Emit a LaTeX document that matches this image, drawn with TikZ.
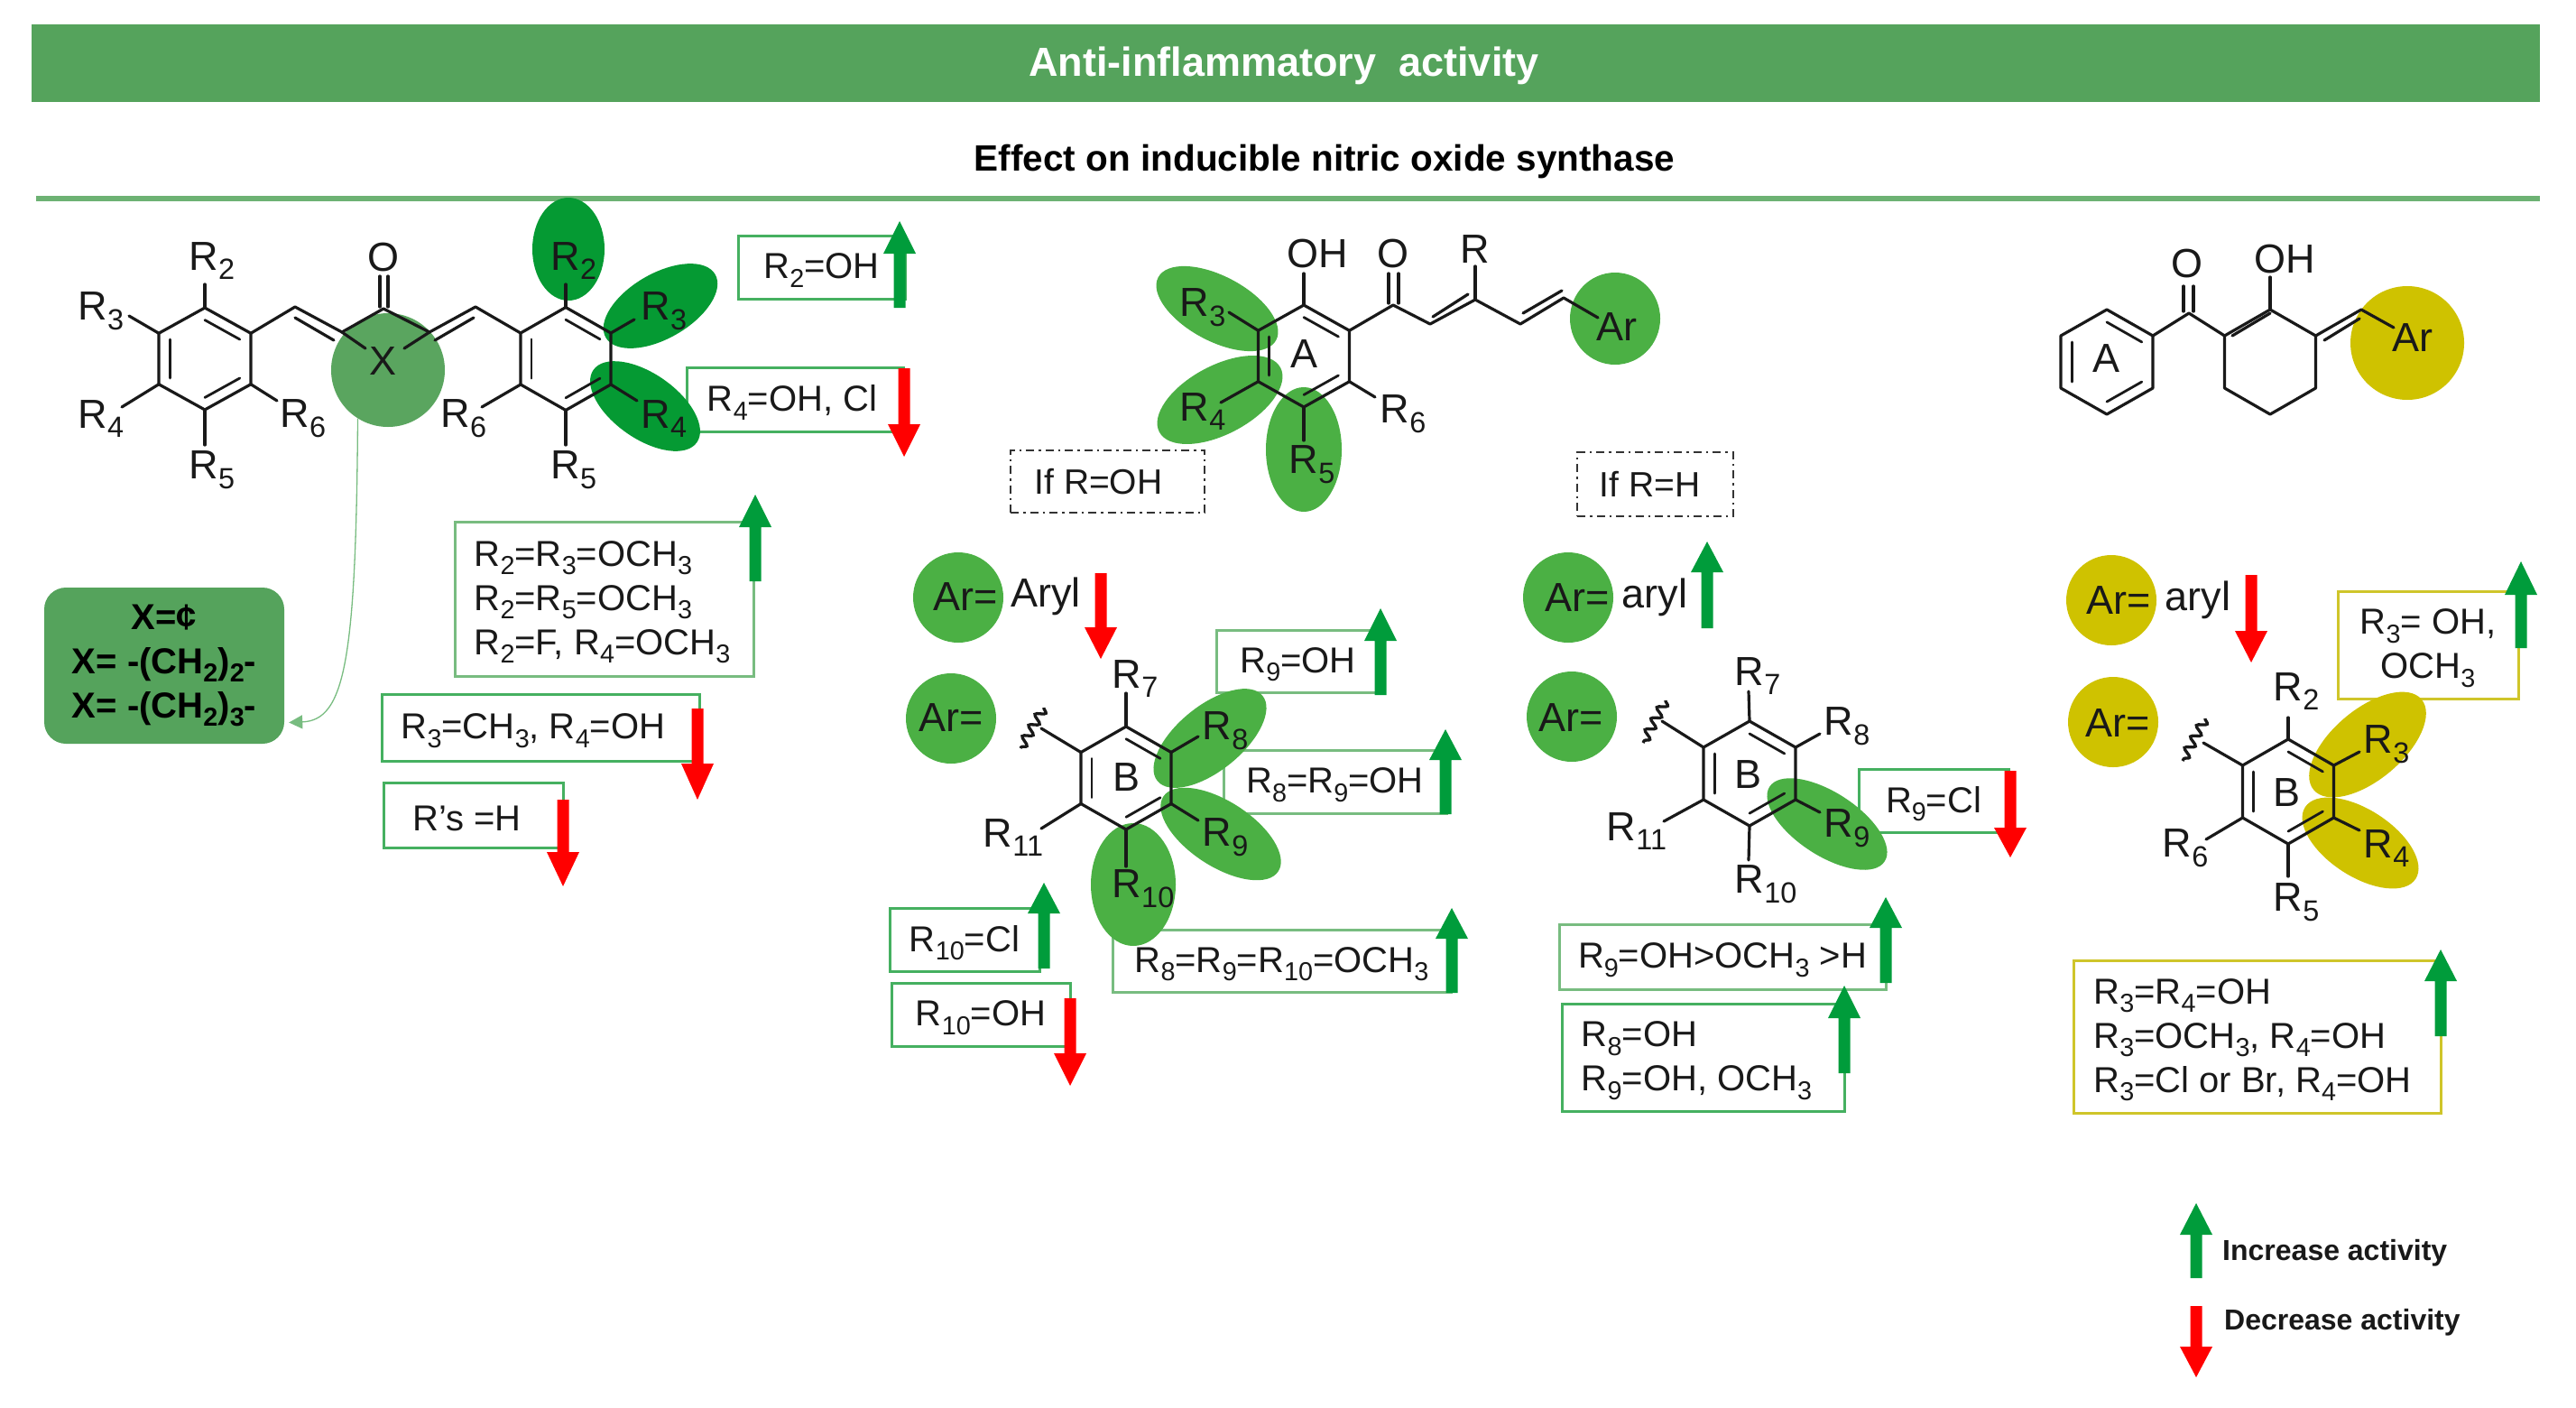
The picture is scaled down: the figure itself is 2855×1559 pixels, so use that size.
\documentclass[tikz,border=0pt]{standalone}
\usepackage{fontspec}
\setmainfont{Liberation Sans}
\usetikzlibrary{calc,shapes.geometric,arrows.meta,decorations.pathmorphing}
\definecolor{banner}{HTML}{55A35C}
\definecolor{rulec}{HTML}{6DB273}
\definecolor{dkg}{HTML}{059A33}
\definecolor{midg}{HTML}{4BB044}
\definecolor{palg}{HTML}{5AA55F}
\definecolor{yel}{HTML}{CFC200}
\definecolor{gbox}{HTML}{45B060}
\definecolor{lbox}{HTML}{78BC80}
\definecolor{ybox}{HTML}{CFC52A}
\definecolor{garr}{HTML}{009C3B}
\tikzset{
 bond/.style={line width=3.2pt,line cap=round,line join=round,draw=black!90},
 lbl/.style={inner sep=0pt,font=\fontsize{45}{50}\selectfont,text=black!90},
 ttl/.style={inner sep=0pt,font=\fontsize{#1}{#1}\selectfont\bfseries},
 blob/.style={ellipse,fill=#1,draw=none,inner sep=0pt},
 boxs/.style={draw=#1,line width=3pt,fill=none,inner sep=0pt},
 boxt/.style={inner sep=0pt,align=left,font=\fontsize{40}{49}\selectfont,text=black!90},
 dbox/.style={draw=black!80,line width=2.2pt,dash pattern=on 9pt off 5pt on 2.5pt off 5pt,inner sep=0pt,font=\fontsize{39}{46}\selectfont,text=black!90},
 conn/.style={draw=#1,line width=1.3pt,-{Triangle[length=15pt,width=15pt,fill=#1]}},
 wavy/.style={line width=3.3pt,draw=black!90,decorate,decoration={snake,segment length=14pt,amplitude=5pt}},
}
\newcommand{\su}[1]{\raisebox{-.24em}{\scalebox{.72}{#1}}}
% name cx cy w r
\newcommand{\hexr}[5]{%
 \coordinate (#1) at (#2,#3);
 \coordinate (#1-1) at (#2,{#3-#5});
 \coordinate (#1-2) at ({#2+#4},{#3-#5/2});
 \coordinate (#1-3) at ({#2+#4},{#3+#5/2});
 \coordinate (#1-4) at (#2,{#3+#5});
 \coordinate (#1-5) at ({#2-#4},{#3+#5/2});
 \coordinate (#1-6) at ({#2-#4},{#3-#5/2});
 \draw[bond] (#1-1)--(#1-2)--(#1-3)--(#1-4)--(#1-5)--(#1-6)--cycle;
}
\newcommand{\hexin}[3]{\draw[bond,line width=2.8pt] ($(#1)!.76!(#1-#2)$)--($(#1)!.76!(#1-#3)$);}
% from-vertex, bond end x y, label name, lx ly, text
\newcommand{\sbd}[7]{%
 \coordinate (#4-b) at (#2,#3);
 \draw[bond] (#1)--(#4-b);
 \node[lbl] (#4) at (#5,#6) {#7};
}
% name x1 y1 x2 y2 colour opts text
\newcommand{\bx}[8]{%
 \node[boxs=#6,minimum width={(#4-#2)*1pt},minimum height={(#5-#3)*1pt}] (#1) at ({(#2+#4)/2},{(#3+#5)/2}) {};
 \node[boxt,#7] (#1t) at ({(#2+#4)/2},{(#3+#5)/2+3.5}) {#8};}
% x top headbase bottom
\newcommand{\uparr}[4]{\fill[garr] (#1,#2)--({#1+18},#3)--({#1+6.5},#3)--({#1+6.5},#4)--({#1-6.5},#4)--({#1-6.5},#3)--({#1-18},#3)--cycle;}
\newcommand{\dnarr}[4]{\fill[red] ({#1-6.5},#2)--({#1+6.5},#2)--({#1+6.5},#3)--({#1+18},#3)--(#1,#4)--({#1-18},#3)--({#1-6.5},#3)--cycle;}
\begin{document}
\begin{tikzpicture}[x=1pt,y=-1pt]
\useasboundingbox (0,0) rectangle (2855,1559);
% header
\node[fill=banner,minimum width=2780pt,minimum height=86pt,inner sep=0pt] (banner) at (1425,70) {};
\node[text=white,ttl=45] (title) at (1423,73) {Anti-inflammatory\ \ activity};
\node[ttl=40.5,text=black] (subtitle) at (1468,179) {Effect on inducible nitric oxide synthase};
\coordinate (ruleL) at (40,220);\coordinate (ruleR) at (2815,220);
\draw[rulec,line width=6pt] (ruleL)--(ruleR);

% boxes
\bx{b1}{818}{261}{1003}{331}{gbox}{}{R\su{2}=OH}
\bx{b2}{761}{407}{1001}{478}{gbox}{xshift=-3pt}{R\su{4}=OH, Cl}
\bx{b3}{504}{578}{835}{749}{lbox}{xshift=-2pt}{R\su{2}=R\su{3}=OCH\su{3}\\R\su{2}=R\su{5}=OCH\su{3}\\R\su{2}=F, R\su{4}=OCH\su{3}}
\bx{b4}{423}{769}{775}{843}{gbox}{xshift=-8pt}{R\su{3}=CH\su{3}, R\su{4}=OH}
\bx{b5}{425}{867}{624}{939}{gbox}{xshift=-7pt}{R’s =H}
\bx{b6}{1348}{698}{1529}{767}{lbox}{}{R\su{9}=OH}
\bx{b7}{1356}{831}{1603}{901}{lbox}{}{R\su{8}=R\su{9}=OH}
\bx{b8}{1233}{1030}{1608}{1099}{lbox}{}{R\su{8}=R\su{9}=R\su{10}=OCH\su{3}}
\bx{b9}{986}{1006}{1152}{1076}{gbox}{}{R\su{10}=Cl}
\bx{b10}{988}{1089}{1186}{1159}{gbox}{}{R\su{10}=OH}
\bx{b11}{2060}{852}{2226}{922}{gbox}{}{R\su{9}=Cl}
\bx{b12}{1728}{1024}{2090}{1096}{lbox}{}{R\su{9}=OH>OCH\su{3} >H}
\bx{b13}{1731}{1112}{2044}{1231}{gbox}{xshift=-7pt}{R\su{8}=OH\\R\su{9}=OH, OCH\su{3}}
\bx{b14}{2591}{655}{2791}{774}{ybox}{align=center}{R\su{3}= OH,\\OCH\su{3}}
\bx{b15}{2298}{1064}{2705}{1233}{ybox}{xshift=-5pt}{R\su{3}=R\su{4}=OH\\R\su{3}=OCH\su{3}, R\su{4}=OH\\R\su{3}=Cl or Br, R\su{4}=OH}
\node[dbox,minimum width=215pt,minimum height=69pt] (d1) at (1227.5,533.5) {\hspace*{-20pt}If R=OH};
\node[dbox,minimum width=173pt,minimum height=71pt] (d2) at (1834.5,536.5) {\hspace*{-12pt}If R=H};

% ellipses
\node[blob=dkg,minimum width=80pt,minimum height=114pt] (e1) at (630,276) {};
\node[blob=dkg,minimum width=140pt,minimum height=72pt,rotate=30] (e2) at (732,339) {};
\node[blob=dkg,minimum width=140pt,minimum height=72pt,rotate=-35] (e3) at (715,450) {};
\node[blob=palg,minimum width=126pt,minimum height=126pt] (xe) at (430,410) {};
\node[blob=midg,minimum width=148pt,minimum height=72pt,rotate=-28] (e4) at (1349,342) {};
\node[blob=midg,minimum width=152pt,minimum height=76pt,rotate=28] (e5) at (1352,443) {};
\node[blob=midg,minimum width=84pt,minimum height=138pt] (e6) at (1445,498) {};
\node[blob=midg,minimum width=100pt,minimum height=102pt] (e7) at (1790,353) {};
\node[blob=midg,minimum width=100pt,minimum height=100pt] (e8) at (1062,662) {};
\node[blob=midg,minimum width=100pt,minimum height=100pt] (e9) at (1054,796) {};
\node[blob=midg,minimum width=150pt,minimum height=72pt,rotate=39] (e10) at (1341,818) {};
\node[blob=midg,minimum width=152pt,minimum height=72pt,rotate=-33] (e11) at (1353,924) {};
\node[blob=midg,minimum width=94pt,minimum height=136pt] (e12) at (1256,980) {};
\node[blob=midg,minimum width=100pt,minimum height=100pt] (e13) at (1738,662) {};
\node[blob=midg,minimum width=100pt,minimum height=100pt] (e14) at (1742,794) {};
\node[blob=midg,minimum width=152pt,minimum height=70pt,rotate=-33] (e15) at (2025,913) {};
\node[blob=yel,minimum width=126pt,minimum height=126pt] (e16) at (2668,380) {};
\node[blob=yel,minimum width=100pt,minimum height=100pt] (e17) at (2340,665) {};
\node[blob=yel,minimum width=100pt,minimum height=100pt] (e18) at (2342,800) {};
\node[blob=yel,minimum width=156pt,minimum height=78pt,rotate=40] (e19) at (2624,825) {};
\node[blob=yel,minimum width=146pt,minimum height=74pt,rotate=-33] (e20) at (2616,934) {};

% --- structure 1
\hexr{la}{227}{397.5}{51}{56.5}
\hexin{la}{1}{2}\hexin{la}{3}{4}\hexin{la}{5}{6}
\hexr{lb}{627}{397.5}{50}{57}
\hexin{lb}{1}{2}\hexin{lb}{3}{4}\hexin{lb}{5}{6}
\coordinate (c1) at (327,340);\coordinate (c2) at (379,368);\coordinate (c3) at (425,342);\coordinate (c4) at (476,368);\coordinate (c5) at (527,340);
\draw[bond] (la-2)--(c1)--(c2)--(c3)--(c4)--(c5)--(lb-6);
\draw[bond] (327,352)--(370,377);\draw[bond] (482,377)--(525,352);
\node[lbl] (o1) at (425,285) {O};
\draw[bond] (421,306)--(421,340);\draw[bond] (430,306)--(430,340);
\node[lbl] (x1) at (425,400) {X};
\coordinate (xl) at (405,386);\coordinate (xr) at (448,386);
\draw[bond] (c2)--(xl);\draw[bond] (c4)--(xr);
\sbd{la-1}{227}{315}{s1}{235}{289}{R\su{2}}
\sbd{la-6}{143}{350}{s2}{112}{345}{R\su{3}}
\sbd{la-5}{135}{451}{s3}{112}{464}{R\su{4}}
\sbd{la-4}{227}{493}{s4}{235}{521}{R\su{5}}
\sbd{la-3}{307}{444}{s5}{336}{464}{R\su{6}}
\sbd{lb-1}{627}{315}{s6}{636}{289}{R\su{2}}
\sbd{lb-2}{703}{354}{s7}{736}{345}{R\su{3}}
\sbd{lb-3}{706}{444}{s8}{736}{464}{R\su{4}}
\sbd{lb-4}{627}{493}{s9}{636}{521}{R\su{5}}
\sbd{lb-5}{534}{451}{s10}{514}{464}{R\su{6}}
% X box
\node[fill=banner,rounded corners=24pt,minimum width=266pt,minimum height=173pt,inner sep=0pt,align=center,font=\fontsize{40}{49}\selectfont\bfseries] (xbox) at (182,737.5) {X=¢\\X= -(CH\su{2})\su{2}-\\X= -(CH\su{2})\su{3}-};
\draw[conn=lbox] (xe.-122) .. controls ($(xe.-122)+(-2,270)$) and (382,798) .. ($(xbox.east)+(5,63)$);

% --- structure 2
\hexr{ma}{1445}{394.5}{50.5}{56.5}
\hexin{ma}{1}{2}\hexin{ma}{3}{4}\hexin{ma}{5}{6}
\node[lbl] (a2) at (1445,392) {A};
\sbd{ma-1}{1445}{303}{m1}{1460}{281}{OH}
\coordinate (d1a) at (1544,338);\coordinate (d2a) at (1585,359);\coordinate (d3a) at (1635,332);\coordinate (d4a) at (1685,359);\coordinate (d5a) at (1733,330);
\coordinate (d6a) at (1771,352);
\draw[bond] (ma-2)--(d1a)--(d2a)--(d3a)--(d4a)--(d5a)--(d6a);
\draw[bond] (1588,351)--(1627,326);\draw[bond] (1688,347)--(1731,322);
\node[lbl] (o2) at (1544,281) {O};
\draw[bond] (1539,303)--(1539,336);\draw[bond] (1550,303)--(1550,336);
\sbd{d3a}{1635}{295}{m2}{1635}{276}{R}
\node[lbl] (ar1) at (1792,362) {Ar};
\sbd{ma-6}{1362}{346}{m3}{1333}{341}{R\su{3}}
\sbd{ma-5}{1353}{446}{m4}{1333}{456}{R\su{4}}
\sbd{ma-4}{1445}{488}{m5}{1454}{515}{R\su{5}}
\sbd{ma-3}{1524}{440}{m6}{1555}{459}{R\su{6}}
% Ar=Aryl
\node[lbl] (t1) at (1070,661) {Ar=};
\node[lbl] (t2) at (1159,661) {Aryl};
\node[lbl] (t3) at (1054,795) {Ar=};
% ring B mid
\hexr{mb}{1248}{862}{50}{57}
\hexin{mb}{1}{2}\hexin{mb}{3}{4}\hexin{mb}{5}{6}
\node[lbl] (bb1) at (1248,861) {B};
\coordinate (w1) at (1154,807);\draw[bond] (mb-6)--(w1);
\coordinate (w1a) at (1157,784);\coordinate (w1b) at (1131,829);\draw[wavy] (w1a)--(w1b);
\sbd{mb-1}{1248}{768}{n1}{1258}{752}{R\su{7}}
\sbd{mb-2}{1328}{816}{n2}{1358}{810}{R\su{8}}
\sbd{mb-3}{1328}{909}{n3}{1358}{928}{R\su{9}}
\sbd{mb-4}{1248}{960}{n4}{1267}{985}{R\su{10}}
\sbd{mb-5}{1154}{918}{n5}{1123}{928}{R\su{11}}
% ring B right of middle
\node[lbl] (t4) at (1748,662) {Ar=};
\node[lbl] (t5) at (1834,662) {aryl};
\node[lbl] (t6) at (1741,795) {Ar=};
\hexr{nb}{1939}{857}{51}{58}
\hexin{nb}{1}{2}\hexin{nb}{3}{4}\hexin{nb}{5}{6}
\node[lbl] (bb2) at (1937,858) {B};
\coordinate (w2) at (1842,799);\draw[bond] (nb-6)--(w2);
\coordinate (w2a) at (1846,776);\coordinate (w2b) at (1821,823);\draw[wavy] (w2a)--(w2b);
\sbd{nb-1}{1938}{766}{p1}{1948}{749}{R\su{7}}
\sbd{nb-2}{2017}{813}{p2}{2047}{805}{R\su{8}}
\sbd{nb-3}{2017}{900}{p3}{2047}{918}{R\su{9}}
\sbd{nb-4}{1938}{953}{p4}{1957}{980}{R\su{10}}
\sbd{nb-5}{1844}{910}{p5}{1814}{921}{R\su{11}}

% --- structure 3
\hexr{ra}{2335}{401}{51}{58}
\hexin{ra}{1}{2}\hexin{ra}{3}{4}\hexin{ra}{5}{6}
\node[lbl] (a3) at (2334,397) {A};
\hexr{rc}{2516}{401}{50.5}{58}
\coordinate (k1) at (2426,347);
\draw[bond] (ra-2)--(k1)--(rc-6);
\draw[bond] (2474,372)--(2516,347);
\node[lbl] (o3) at (2424,292) {O};
\draw[bond] (2420,317)--(2420,345);\draw[bond] (2431,317)--(2431,345);
\sbd{rc-1}{2516}{307}{q1}{2532}{287}{OH}
\coordinate (k2) at (2617,343);\coordinate (k3) at (2653,363);
\draw[bond] (rc-2)--(k2)--(k3);
\draw[bond] (2576,377)--(2615,353);
\node[lbl] (ar3) at (2674,374) {Ar};
\node[lbl] (t7) at (2348,665) {Ar=};
\node[lbl] (t8) at (2436,665) {aryl};
\node[lbl] (t9) at (2347,801) {Ar=};
\hexr{rb}{2536}{877}{50.5}{58}
\hexin{rb}{1}{2}\hexin{rb}{3}{4}\hexin{rb}{5}{6}
\node[lbl] (bb3) at (2534,878) {B};
\coordinate (w3) at (2442,823);\draw[bond] (rb-6)--(w3);
\coordinate (w3a) at (2444,796);\coordinate (w3b) at (2419,843);\draw[wavy] (w3a)--(w3b);
\sbd{rb-1}{2536}{795}{u1}{2545}{766}{R\su{2}}
\sbd{rb-2}{2615}{833}{u2}{2645}{825}{R\su{3}}
\sbd{rb-3}{2615}{920}{u3}{2645}{940}{R\su{4}}
\sbd{rb-4}{2536}{971}{u4}{2545}{1000}{R\su{5}}
\sbd{rb-5}{2445}{930}{u5}{2422}{940}{R\su{6}}

% arrows
\uparr{997}{245}{281}{341}
\dnarr{1002}{408}{470}{506}
\uparr{837}{548}{584}{644}
\dnarr{773}{785}{846}{886}
\dnarr{624}{886}{944}{982}
\dnarr{1220}{635}{695}{730}
\uparr{1530}{674}{710}{770}
\uparr{1602}{808}{842}{902}
\uparr{1609}{1006}{1040}{1100}
\uparr{1157}{978}{1012}{1073}
\dnarr{1186}{1106}{1167}{1203}
\uparr{1892}{600}{634}{696}
\dnarr{2228}{854}{917}{950}
\uparr{2090}{994}{1028}{1089}
\uparr{2044}{1092}{1128}{1189}
\dnarr{2495}{637}{699}{734}
\uparr{2794}{622}{659}{718}
\uparr{2705}{1052}{1087}{1148}
% legend
\uparr{2434}{1333}{1368}{1416}
\dnarr{2434}{1447}{1492}{1526}
\node[ttl=32,text=black!90,anchor=west] (l1) at (2463,1388) {Increase activity};
\node[ttl=32,text=black!90,anchor=west] (l2) at (2465,1465) {Decrease activity};
\end{tikzpicture}
\end{document}
